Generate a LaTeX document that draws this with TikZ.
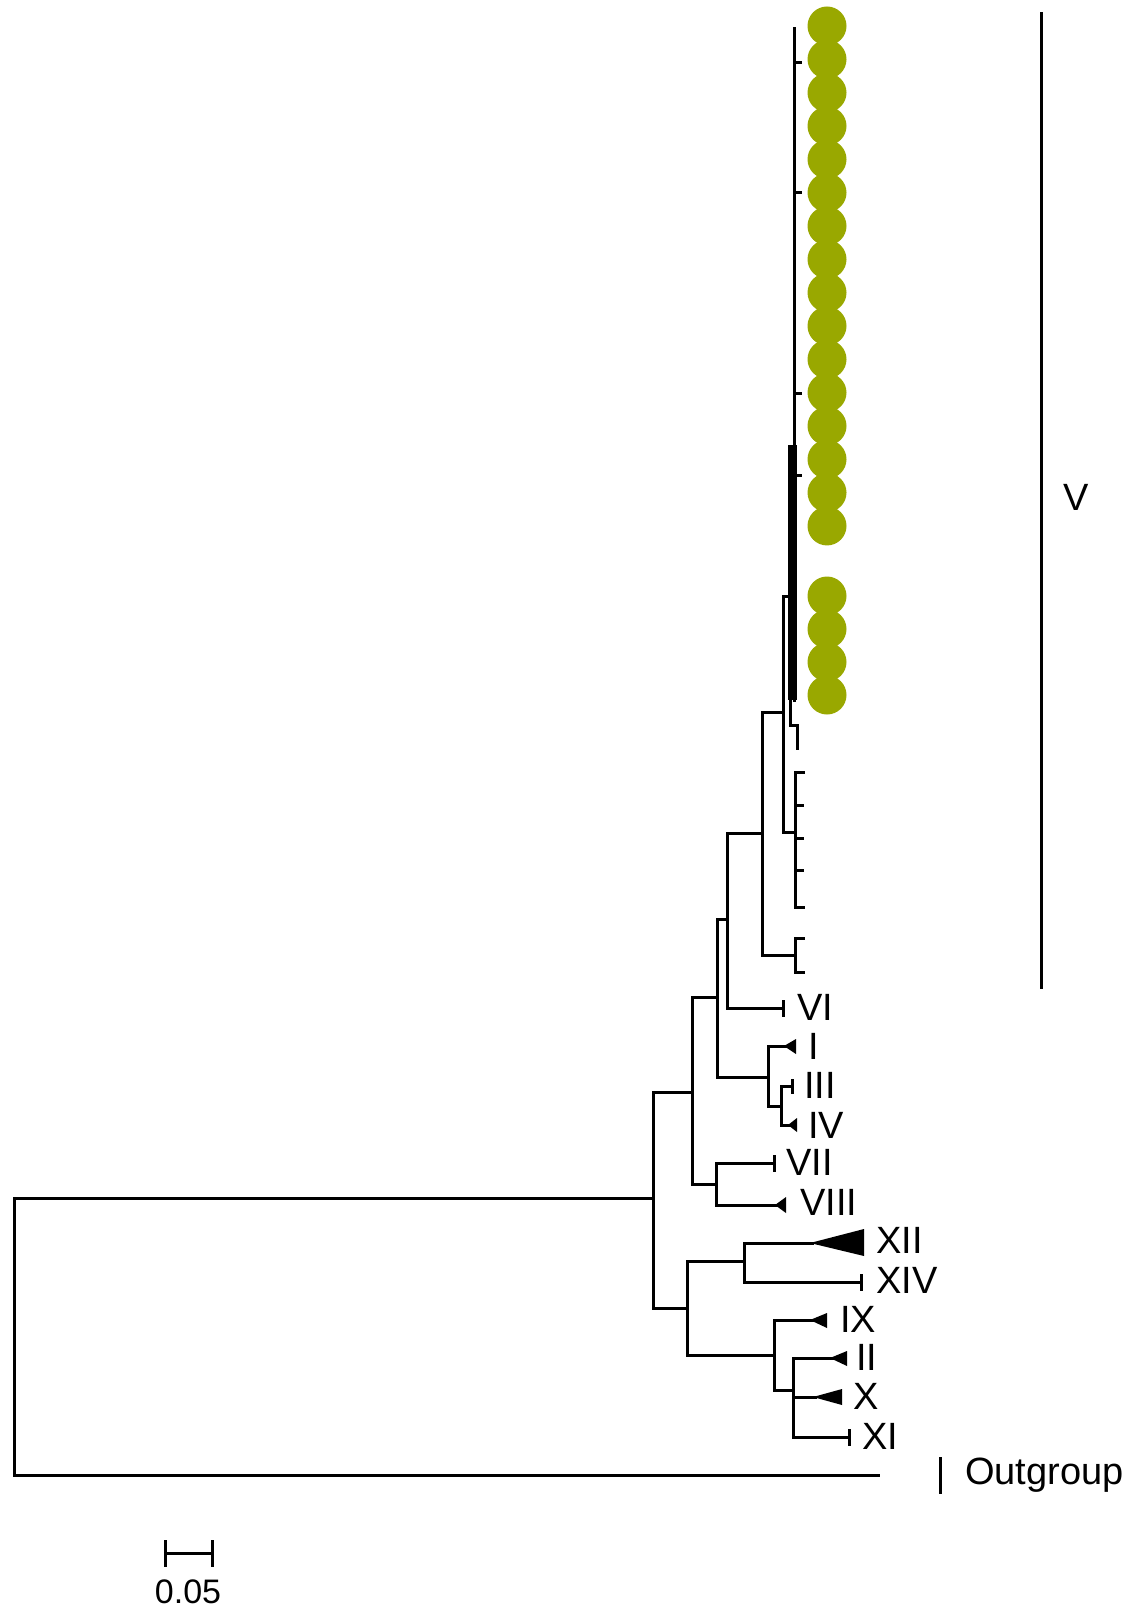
\documentclass[tikz,border=0pt]{standalone}
\usepackage{fontspec}
\setmainfont{Liberation Sans}
\definecolor{olive}{RGB}{153,168,0}
\begin{document}
\begin{tikzpicture}[x=1pt,y=-1pt,
  br/.style={line width=3pt,line cap=rect},
  tri/.style={fill=black},
  lab/.style={font=\fontsize{38}{40}\selectfont,anchor=west,inner sep=0pt},
  dot/.style={circle,fill=olive,minimum size=39pt,inner sep=0pt}]
\useasboundingbox (0,0) rectangle (1133,1621);
% root
\coordinate (root) at (14,1198);
\draw[br] (653,1198) -- (14,1198) -- (14,1475) -- (878,1475);
\draw[br] (940,1458) -- (940,1492);
\node[lab] (og) at (965,1475) {Outgroup};
% node A
\draw[br] (692,1092) -- (653,1092) -- (653,1308) -- (687,1308);
% node B
\draw[br] (717,997) -- (692,997) -- (692,1184) -- (716,1184);
% VII / VIII
\draw[br] (774,1163) -- (716,1163) -- (716,1205) -- (776,1205);
\draw[br] (774,1156) -- (774,1170);
\fill[tri] (775,1205) -- (786,1197) -- (786,1213) -- cycle;
\node[lab] (l7) at (786,1162) {VII};
\node[lab] (l8) at (800,1202) {VIII};
% node C (x=717)
\draw[br] (727,919) -- (717,919) -- (717,1077) -- (768,1077);
% I / III / IV
\draw[br] (786,1046) -- (768,1046) -- (768,1106) -- (781,1106);
\fill[tri] (784,1046) -- (796,1039) -- (796,1054) -- cycle;
\draw[br] (792,1086) -- (781,1086) -- (781,1125) -- (789,1125);
\draw[br] (792,1080) -- (792,1092);
\fill[tri] (788,1125) -- (797,1118) -- (797,1132) -- cycle;
\node[lab] (l1) at (808,1046) {I};
\node[lab] (l3) at (804,1085) {III};
\node[lab] (l4) at (808,1125) {IV};
% node D (x=727) + VI
\draw[br] (762,833) -- (727,833) -- (727,1008) -- (783,1008);
\draw[br] (783,1001) -- (783,1015);
\node[lab] (l6) at (797,1007) {VI};
% N1
\draw[br] (783,712) -- (762,712) -- (762,955) -- (795,955);
\draw[br] (803,938) -- (795,938) -- (795,972) -- (803,972);
% N2
\draw[br] (790,596) -- (783,596) -- (783,832) -- (795,832);
\draw[br] (803,772) -- (795,772) -- (795,907) -- (803,907);
\foreach \y in {805,838,870} \draw[br] (795,\y) -- (802,\y);
\draw[br] (790,700) -- (790,725) -- (797,725) -- (797,748);
% big clade
\draw[br] (794,29) -- (794,700);
\fill (788,445) rectangle (797,700);
\foreach \y in {63,193,393,475} \draw[br] (794,\y) -- (800,\y);
% green dots
\foreach \k in {0,...,15} \node[dot] (g\k) at (827,26+33.33*\k) {};
\foreach \k in {0,...,3} \node[dot] (h\k) at (827,596+33*\k) {};
% clade V bar
\draw[br] (1041,14) -- (1041,987);
\node[lab] (lv) at (1063,497) {V};
% lower clade
\draw[br] (744,1261) -- (687,1261) -- (687,1355) -- (774,1355);
\draw[br] (812,1243) -- (744,1243) -- (744,1282) -- (861,1282);
\fill[tri] (810,1243) -- (864,1229) -- (864,1256) -- cycle;
\draw[br] (861,1275) -- (861,1289);
\node[lab] (l12) at (876,1240) {XII};
\node[lab] (l14) at (876,1280) {XIV};
\draw[br] (812,1320) -- (774,1320) -- (774,1390) -- (793,1390);
\fill[tri] (810,1320) -- (827,1313) -- (827,1328) -- cycle;
\node[lab] (l9) at (840,1319) {IX};
\draw[br] (832,1358) -- (793,1358) -- (793,1437) -- (849,1437);
\draw[br] (793,1397) -- (815,1397);
\fill[tri] (830,1358) -- (847,1351) -- (847,1366) -- cycle;
\fill[tri] (813,1397) -- (842,1389) -- (842,1405) -- cycle;
\draw[br] (849,1430) -- (849,1444);
\node[lab] (l2) at (856,1357) {II};
\node[lab] (l10) at (853,1396) {X};
\node[lab] (l11) at (862,1436) {XI};
% scale bar
\draw[br] (165,1553) -- (212,1553);
\draw[br] (165,1541) -- (165,1565);
\draw[br] (212,1541) -- (212,1565);
\node[font=\fontsize{34}{36}\selectfont] (sc) at (188,1592) {0.05};
\end{tikzpicture}
\end{document}
